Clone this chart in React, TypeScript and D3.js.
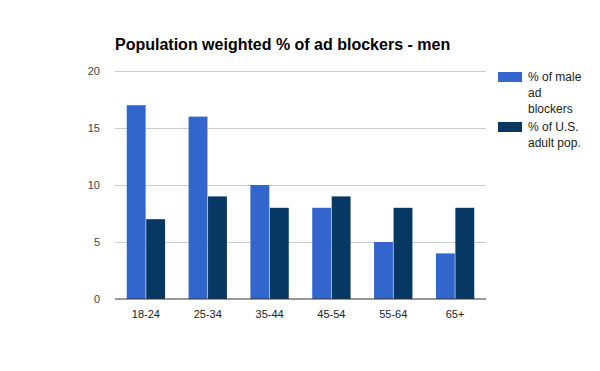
import React from 'react';
import * as d3 from 'd3';

const categories = ['18-24', '25-34', '35-44', '45-54', '55-64', '65+'];
const maleBlockers = [17, 16, 10, 8, 5, 4];
const adultPop = [7, 9, 8, 9, 8, 8];
const yTicks = [0, 5, 10, 15, 20];
const seriesNames = ['% of male ad blockers', '% of U.S. adult pop.'];
const legendLines = [['% of male', 'ad', 'blockers'], ['% of U.S.', 'adult pop.']];
const colors = ['#3366cc', '#073763'];

const WIDTH = 600;
const HEIGHT = 371;
const margin = { top: 71, right: 114, bottom: 72, left: 115 };

export default function App() {
  const chartWidth = WIDTH - margin.left - margin.right;
  const chartHeight = HEIGHT - margin.top - margin.bottom;
  const font = 'Arial, "Liberation Sans", sans-serif';

  const xScale = d3
    .scaleBand()
    .domain(categories)
    .range([0, chartWidth])
    .paddingInner(0.38)
    .paddingOuter(0.19);

  const subScale = d3
    .scaleBand()
    .domain(seriesNames)
    .range([0, xScale.bandwidth()])
    .paddingInner(0.03);

  const yScale = d3.scaleLinear().domain([0, 20]).range([chartHeight, 0]);

  const series = [maleBlockers, adultPop];

  return (
    <svg width={WIDTH} height={HEIGHT} style={{ position: 'absolute', left: 0, top: 0 }}>
      <rect width={WIDTH} height={HEIGHT} fill="#fff" />
      {/* 标题 */}
      <text x={115} y={50} fontFamily={font} fontSize={16} fontWeight="bold" fill="#000">
        Population weighted % of ad blockers - men
      </text>
      <g transform={`translate(${margin.left},${margin.top})`}>
        {/* 网格线 */}
        {yTicks.map(t => (
          <g key={t}>
            {t > 0 && (
              <line x1={0} x2={chartWidth} y1={yScale(t) + 0.5} y2={yScale(t) + 0.5} stroke="#cccccc" />
            )}
            <text
              x={-15}
              y={yScale(t) + 4}
              textAnchor="end"
              fontFamily={font}
              fontSize={11}
              fill="#444"
            >
              {t}
            </text>
          </g>
        ))}
        {/* 柱子 */}
        {categories.map((c, i) => (
          <g key={c} transform={`translate(${xScale(c)},0)`}>
            {series.map((s, j) => (
              <rect
                key={j}
                x={subScale(seriesNames[j])}
                y={yScale(s[i])}
                width={subScale.bandwidth()}
                height={chartHeight - yScale(s[i])}
                fill={colors[j]}
              />
            ))}
            <text
              x={xScale.bandwidth() / 2}
              y={chartHeight + 19}
              textAnchor="middle"
              fontFamily={font}
              fontSize={11}
              fill="#222"
            >
              {c}
            </text>
          </g>
        ))}
        <line x1={0} x2={chartWidth} y1={chartHeight} y2={chartHeight} stroke="#333" strokeWidth={1} />
      </g>
      {/* 图例 */}
      {legendLines.map((lines, i) => {
        const top = i === 0 ? 72 : 122;
        return (
          <g key={i}>
            <rect x={498} y={top} width={24} height={10} fill={colors[i]} />
            {lines.map((l, k) => (
              <text
                key={k}
                x={528}
                y={top + 9 + k * 16}
                fontFamily={font}
                fontSize={12}
                fill="#222"
              >
                {l}
              </text>
            ))}
          </g>
        );
      })}
    </svg>
  );
}
